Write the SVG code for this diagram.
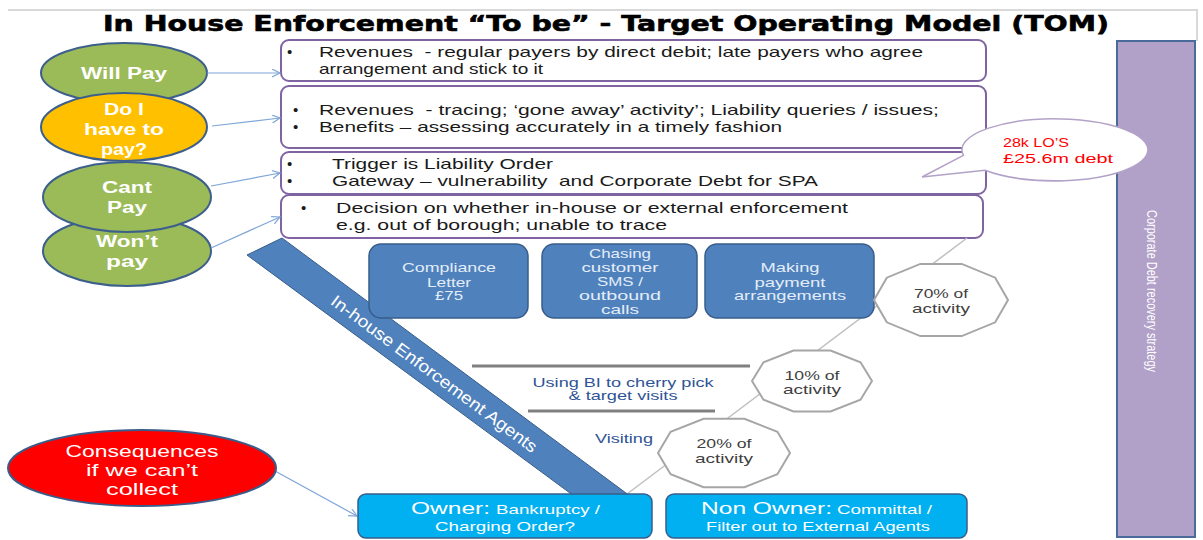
<svg xmlns="http://www.w3.org/2000/svg" width="1203" height="540" viewBox="0 0 1203 540">
<defs>
<style>
text{font-family:"Liberation Sans",Arial,sans-serif}
.title{font-family:"DejaVu Sans","Liberation Sans",sans-serif;font-size:21px;font-weight:bold;fill:#000;stroke:#000;stroke-width:0.6}
.el{font-size:16px;font-weight:bold;fill:#fff;text-anchor:middle}
.ell-g{fill:#9bbb59;stroke:#3d5f8c;stroke-width:2}
.ell-o{fill:#ffc000;stroke:#3d5f8c;stroke-width:2}
.pbox{fill:#fff;stroke:#8064a2;stroke-width:2}
.bt{font-size:15px;fill:#1a1a1a;white-space:pre}
.bbox{fill:#4f81bd;stroke:#385d8a;stroke-width:1.5}
.bbt{font-size:13px;fill:#e3edf8;text-anchor:middle}
.dec{fill:#fff;stroke:#a6a6a6;stroke-width:2}
.dt{font-size:13px;fill:#404040;text-anchor:middle}
.cbox{fill:#00b0f0;stroke:#385d8a;stroke-width:1.5}
.ct{fill:#fff}
.arr{stroke:#7ea6d8;stroke-width:1.2;fill:none;marker-end:url(#ah)}
.blue{font-size:13px;fill:#2f5496;text-anchor:middle}
</style>
<marker id="ah" markerWidth="10" markerHeight="10" refX="8" refY="4" orient="auto" markerUnits="userSpaceOnUse">
<path d="M0,0 L8,4 L0,8" fill="none" stroke="#7ea6d8" stroke-width="1.2"/>
</marker>
</defs>
<rect width="1203" height="540" fill="#fff"/>
<polyline points="8,10 1197,10 1197,41" fill="none" stroke="#d9d9d9" stroke-width="2"/>
<text class="title" x="606" y="31" text-anchor="middle" textLength="1006" lengthAdjust="spacingAndGlyphs">In House Enforcement “To be” - Target Operating Model (TOM)</text>

<g id="strategy-bar">
<rect x="1117" y="41" width="78" height="496" fill="#b1a0c7" stroke="#4a6b99" stroke-width="2"/>
<text x="0" y="0" transform="translate(1152,291) rotate(90)" text-anchor="middle" dominant-baseline="central" font-size="15" fill="#ffffff" textLength="162" lengthAdjust="spacingAndGlyphs">Corporate Debt recovery strategy</text>
</g>

<g id="will-pay">
<ellipse class="ell-g" cx="124" cy="73" rx="83" ry="30"/>
<text class="el" x="124" y="79" textLength="86" lengthAdjust="spacingAndGlyphs">Will Pay</text>
</g>
<g id="do-i-have-to-pay">
<ellipse class="ell-o" cx="124" cy="127" rx="83" ry="34"/>
<text class="el" x="124" y="115" textLength="40" lengthAdjust="spacingAndGlyphs">Do I</text>
<text class="el" x="124" y="135" textLength="80" lengthAdjust="spacingAndGlyphs">have to</text>
<text class="el" x="124" y="155" textLength="46" lengthAdjust="spacingAndGlyphs">pay?</text>
</g>
<g id="wont-pay">
<ellipse class="ell-g" cx="127" cy="251" rx="84" ry="35"/>
<text class="el" x="127" y="247" textLength="62" lengthAdjust="spacingAndGlyphs">Won’t</text>
<text class="el" x="127" y="267" textLength="42" lengthAdjust="spacingAndGlyphs">pay</text>
</g>
<g id="cant-pay">
<ellipse class="ell-g" cx="127" cy="197" rx="84" ry="35"/>
<text class="el" x="127" y="193" textLength="50" lengthAdjust="spacingAndGlyphs">Cant</text>
<text class="el" x="127" y="213" textLength="40" lengthAdjust="spacingAndGlyphs">Pay</text>
</g>

<g id="box-will-pay">
<rect class="pbox" x="281" y="40" width="705" height="41" rx="8"/>
<text class="bt" x="287" y="57">•</text>
<text class="bt" x="319" y="57" textLength="604" lengthAdjust="spacingAndGlyphs">Revenues  - regular payers by direct debit; late payers who agree</text>
<text class="bt" x="319" y="74" textLength="224" lengthAdjust="spacingAndGlyphs">arrangement and stick to it</text>
</g>
<g id="box-do-i">
<rect class="pbox" x="281" y="86" width="705" height="62" rx="8"/>
<text class="bt" x="293" y="115">•</text>
<text class="bt" x="319" y="115" textLength="620" lengthAdjust="spacingAndGlyphs">Revenues  - tracing; ‘gone away’ activity’; Liability queries / issues;</text>
<text class="bt" x="293" y="132">•</text>
<text class="bt" x="319" y="132" textLength="463" lengthAdjust="spacingAndGlyphs">Benefits – assessing accurately in a timely fashion</text>
</g>
<g id="box-cant-pay">
<rect class="pbox" x="281" y="152" width="705" height="42" rx="8"/>
<text class="bt" x="287" y="169">•</text>
<text class="bt" x="332" y="169" textLength="221" lengthAdjust="spacingAndGlyphs">Trigger is Liability Order</text>
<text class="bt" x="287" y="186">•</text>
<text class="bt" x="332" y="186" textLength="486" lengthAdjust="spacingAndGlyphs">Gateway – vulnerability  and Corporate Debt for SPA</text>
</g>
<g id="box-wont-pay">
<rect class="pbox" x="281" y="195" width="702" height="43" rx="8"/>
<text class="bt" x="301" y="213">•</text>
<text class="bt" x="336" y="213" textLength="512" lengthAdjust="spacingAndGlyphs">Decision on whether in-house or external enforcement</text>
<text class="bt" x="336" y="230" textLength="331" lengthAdjust="spacingAndGlyphs">e.g. out of borough; unable to trace</text>
</g>

<g id="callout">
<path d="M963.4,155.4 L922,177 L985,170.3 A93 31 0 1 0 963.4,155.4 Z" fill="#fff" stroke="#b3a2c7" stroke-width="1.5"/>
<text x="1003" y="147" font-size="13" fill="#ff0000" textLength="66" lengthAdjust="spacingAndGlyphs">28k LO’S</text>
<text x="1003" y="163" font-size="13" fill="#ff0000" textLength="110" lengthAdjust="spacingAndGlyphs">£25.6m debt</text>
</g>

<g id="connectors">
<line class="arr" x1="207" y1="73" x2="280" y2="73"/>
<line class="arr" x1="212" y1="126" x2="280" y2="118"/>
<line class="arr" x1="211" y1="186" x2="280" y2="173"/>
<line class="arr" x1="211" y1="248" x2="280" y2="217"/>
<line class="arr" x1="275" y1="471" x2="357" y2="516"/>
<line x1="967" y1="238" x2="627" y2="494" stroke="#bfbfbf" stroke-width="1.5"/>
</g>

<g id="dividers">
<line x1="472" y1="366" x2="750" y2="366" stroke="#808080" stroke-width="3"/>
<line x1="528" y1="411" x2="715" y2="411" stroke="#808080" stroke-width="3"/>
</g>

<g id="in-house-band">
<polygon points="247,255 282,238 630,496 574,496" fill="#4f81bd" stroke="#385d8a" stroke-width="1"/>
<text x="0" y="0" transform="translate(434,374) rotate(36.5)" text-anchor="middle" dominant-baseline="central" font-size="17" fill="#fff" textLength="252" lengthAdjust="spacingAndGlyphs">In-house Enforcement Agents</text>
</g>

<g id="compliance-letter">
<rect class="bbox" x="369" y="244" width="159" height="74" rx="12"/>
<text class="bbt" x="449" y="272" textLength="94" lengthAdjust="spacingAndGlyphs">Compliance</text>
<text class="bbt" x="449" y="287" textLength="44" lengthAdjust="spacingAndGlyphs">Letter</text>
<text class="bbt" x="449" y="300" textLength="28" lengthAdjust="spacingAndGlyphs">£75</text>
</g>
<g id="chasing-customer">
<rect class="bbox" x="542" y="244" width="155" height="74" rx="12"/>
<text class="bbt" x="620" y="258" textLength="62" lengthAdjust="spacingAndGlyphs">Chasing</text>
<text class="bbt" x="620" y="272" textLength="77" lengthAdjust="spacingAndGlyphs">customer</text>
<text class="bbt" x="620" y="286" textLength="46" lengthAdjust="spacingAndGlyphs">SMS /</text>
<text class="bbt" x="620" y="300" textLength="82" lengthAdjust="spacingAndGlyphs">outbound</text>
<text class="bbt" x="620" y="314" textLength="38" lengthAdjust="spacingAndGlyphs">calls</text>
</g>
<g id="making-payment">
<rect class="bbox" x="705" y="244" width="169" height="74" rx="12"/>
<text class="bbt" x="790" y="272" textLength="59" lengthAdjust="spacingAndGlyphs">Making</text>
<text class="bbt" x="790" y="287" textLength="71" lengthAdjust="spacingAndGlyphs">payment</text>
<text class="bbt" x="790" y="300" textLength="112" lengthAdjust="spacingAndGlyphs">arrangements</text>
</g>

<g id="activity-70">
<polygon class="dec" points="1008,300 995.2,322.3 961.7,336.1 920.3,336.1 886.8,322.3 874,300 886.8,277.7 920.3,263.9 961.7,263.9 995.2,277.7"/>
<text class="dt" x="941" y="298" textLength="54" lengthAdjust="spacingAndGlyphs">70% of</text>
<text class="dt" x="941" y="313" textLength="58" lengthAdjust="spacingAndGlyphs">activity</text>
</g>
<g id="activity-10">
<polygon class="dec" points="872,381 860.5,399.8 830.5,411.4 793.5,411.4 763.5,399.8 752,381 763.5,362.2 793.5,350.6 830.5,350.6 860.5,362.2"/>
<text class="dt" x="812" y="380" textLength="55" lengthAdjust="spacingAndGlyphs">10% of</text>
<text class="dt" x="812" y="394" textLength="58" lengthAdjust="spacingAndGlyphs">activity</text>
</g>
<g id="activity-20">
<polygon class="dec" points="790,453 777.4,474.2 744.4,487.2 703.6,487.2 670.6,474.2 658,453 670.6,431.8 703.6,418.8 744.4,418.8 777.4,431.8"/>
<text class="dt" x="724" y="448" textLength="55" lengthAdjust="spacingAndGlyphs">20% of</text>
<text class="dt" x="724" y="463" textLength="58" lengthAdjust="spacingAndGlyphs">activity</text>
</g>

<g id="bi-labels">
<text class="blue" x="623" y="387" textLength="181" lengthAdjust="spacingAndGlyphs">Using BI to cherry pick</text>
<text class="blue" x="623" y="400" textLength="109" lengthAdjust="spacingAndGlyphs">&amp; target visits</text>
<text class="blue" x="624" y="443" textLength="58" lengthAdjust="spacingAndGlyphs">Visiting</text>
</g>

<g id="consequences">
<ellipse cx="142" cy="468" rx="134" ry="38" fill="#ff0000" stroke="#385d8a" stroke-width="2"/>
<text x="142" y="457" font-size="17" fill="#fff" text-anchor="middle" textLength="153" lengthAdjust="spacingAndGlyphs">Consequences</text>
<text x="142" y="476" font-size="17" fill="#fff" text-anchor="middle" textLength="112" lengthAdjust="spacingAndGlyphs">if we can’t</text>
<text x="142" y="495" font-size="17" fill="#fff" text-anchor="middle" textLength="72" lengthAdjust="spacingAndGlyphs">collect</text>
</g>

<g id="owner">
<rect class="cbox" x="358" y="494" width="294" height="44" rx="8"/>
<text class="ct" y="514"><tspan x="411" font-size="17" textLength="79" lengthAdjust="spacingAndGlyphs">Owner:</tspan><tspan x="496" font-size="13" textLength="104" lengthAdjust="spacingAndGlyphs">Bankruptcy /</tspan></text>
<text class="ct" x="505" y="531" font-size="13" text-anchor="middle" textLength="140" lengthAdjust="spacingAndGlyphs">Charging Order?</text>
</g>
<g id="non-owner">
<rect class="cbox" x="666" y="494" width="301" height="44" rx="8"/>
<text class="ct" y="514"><tspan x="701" font-size="17" textLength="131" lengthAdjust="spacingAndGlyphs">Non Owner:</tspan><tspan x="837" font-size="13" textLength="95" lengthAdjust="spacingAndGlyphs">Committal /</tspan></text>
<text class="ct" x="818" y="531" font-size="13" text-anchor="middle" textLength="224" lengthAdjust="spacingAndGlyphs">Filter out to External Agents</text>
</g>
</svg>
